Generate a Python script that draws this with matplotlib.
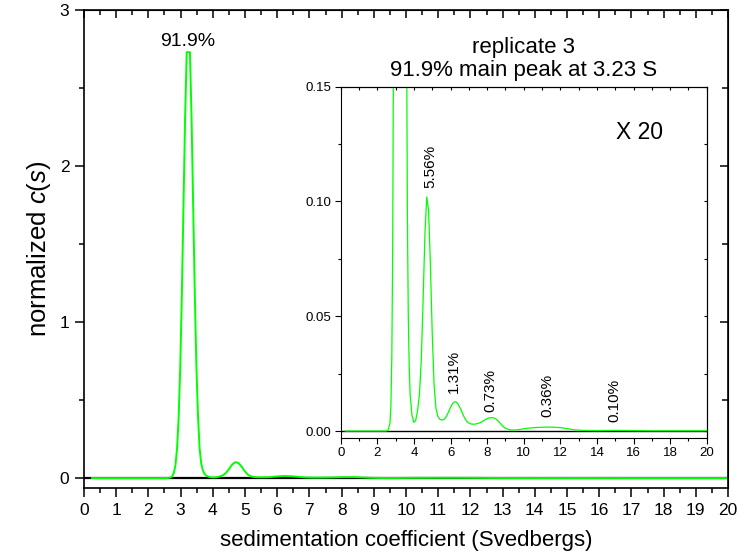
import matplotlib
matplotlib.use("Agg")
import matplotlib.pyplot as plt
from matplotlib.ticker import MultipleLocator

plt.rcParams['font.family'] = ['Liberation Sans', 'DejaVu Sans']
plt.rcParams['mathtext.fontset'] = 'custom'
plt.rcParams['mathtext.rm'] = 'Liberation Sans'
plt.rcParams['mathtext.it'] = 'Liberation Sans:italic'

# c(s) distribution
s = [0.25, 2.5, 2.59, 2.69, 2.74, 2.79, 2.84, 2.89, 2.94, 2.99, 3.04, 3.09, 3.14,
     3.19, 3.29, 3.34, 3.39, 3.44, 3.49, 3.54, 3.59, 3.64, 3.69, 3.74, 3.79,
     3.89, 3.99, 4.09, 4.19, 4.3, 4.4, 4.5, 4.6, 4.7,
     4.8, 4.9, 5.0, 5.1, 5.2, 5.3, 5.4, 5.5, 5.6, 5.7, 5.8, 5.9, 6.0,
     6.1, 6.2, 6.3, 6.4, 6.5, 6.6, 6.7, 6.8, 6.9, 7.0, 7.1, 7.2, 7.3,
     7.4, 7.5, 7.6, 7.7, 7.8, 7.9, 8.0, 8.1, 8.2, 8.3, 8.4, 8.5, 8.6,
     8.7, 8.8, 8.9, 9.0, 9.2, 9.4, 9.6, 9.8, 10.0, 10.4, 10.8, 11.2,
     11.6, 12.0, 12.4, 12.8, 13.2, 14.0, 15.0, 16.0, 17.0, 20.0]
c = [0.0, 0.0, 0.0004, 0.0035, 0.011, 0.032, 0.083, 0.19, 0.39, 0.72, 1.19, 1.75, 2.31,
     2.73, 2.73, 2.31, 1.75, 1.19, 0.72, 0.40, 0.19, 0.095, 0.05, 0.028, 0.016,
     0.007, 0.0038, 0.0045, 0.0085, 0.016, 0.031, 0.057, 0.086, 0.102,
     0.096, 0.072, 0.042, 0.020, 0.010, 0.0065, 0.0052, 0.0048, 0.0049, 0.0055, 0.0068, 0.0085, 0.0104,
     0.0119, 0.0127, 0.0127, 0.0119, 0.0104, 0.0087, 0.0068, 0.0052, 0.0041, 0.0035, 0.0031, 0.0030, 0.0030,
     0.0031, 0.0033, 0.0036, 0.0040, 0.0045, 0.0050, 0.0054, 0.0057, 0.0058, 0.0058, 0.0056, 0.0051, 0.0044,
     0.0035, 0.0026, 0.0018, 0.0012, 0.0006, 0.0004, 0.0005, 0.0007, 0.0010, 0.0014, 0.0016, 0.0017,
     0.0017, 0.0015, 0.0010, 0.0005, 0.0003, 0.0002, 0.0003, 0.0002, 0.0001, 0.0001]

main_label = "91.9%"
main_peak = (3.23, 2.745)
peak_labels = ["5.56%", "1.31%", "0.73%", "0.36%", "0.10%"]
peak_x = [4.88, 6.19, 8.20, 11.29, 14.95]
peak_y = [0.106, 0.0164, 0.0084, 0.0060, 0.0041]

green = '#00ff00'

fig = plt.figure(figsize=(7.44, 5.58), dpi=100)
ax = fig.add_axes([0.1129, 0.1254, 0.8656, 0.8566])

ax.plot([0, 20], [0, 0], color='black', lw=1.6)
ax.plot(s, c, color=green, lw=1.4)
ax.text(main_peak[0], main_peak[1], main_label, ha='center', va='bottom', fontsize=14)

ax.set_xlim(0, 20)
ax.set_ylim(-0.064, 3)
ax.xaxis.set_major_locator(MultipleLocator(1))
ax.xaxis.set_minor_locator(MultipleLocator(0.5))
ax.yaxis.set_major_locator(MultipleLocator(1))
ax.yaxis.set_minor_locator(MultipleLocator(0.5))
ax.tick_params(which='both', direction='out', top=False, right=False, labelsize=12.5, width=1.1)
ax.tick_params(which='major', length=6.5, pad=4)
ax.tick_params(which='minor', length=3.5)
for sp in ax.spines.values():
    sp.set_linewidth(1.2)

# inward ticks on top and right
sec_x = ax.secondary_xaxis('top')
sec_x.xaxis.set_major_locator(MultipleLocator(1))
sec_x.xaxis.set_minor_locator(MultipleLocator(0.5))
sec_x.tick_params(which='both', direction='in', labeltop=False, width=1.1)
sec_x.tick_params(which='major', length=6)
sec_x.tick_params(which='minor', length=3.5)
sec_y = ax.secondary_yaxis('right')
sec_y.yaxis.set_major_locator(MultipleLocator(1))
sec_y.yaxis.set_minor_locator(MultipleLocator(0.5))
sec_y.tick_params(which='both', direction='in', labelright=False, width=1.1)
sec_y.tick_params(which='major', length=6)
sec_y.tick_params(which='minor', length=4)

ax.set_xlabel('sedimentation coefficient (Svedbergs)', fontsize=16, labelpad=9)
ax.set_ylabel(r'normalized $\mathit{c(s)}$', fontsize=18.5, labelpad=5)

# inset, magnified
axi = fig.add_axes([0.458, 0.2156, 0.492, 0.629])
axi.plot([0, 20], [0, 0], color='black', lw=1.0)
axi.plot(s, c, color=green, lw=0.9)
axi.set_xlim(0, 20)
axi.set_ylim(-0.0029, 0.15)
axi.xaxis.set_major_locator(MultipleLocator(2))
axi.xaxis.set_minor_locator(MultipleLocator(1))
axi.yaxis.set_major_locator(MultipleLocator(0.05))
axi.yaxis.set_minor_locator(MultipleLocator(0.025))
axi.yaxis.set_major_formatter(plt.FormatStrFormatter('%.2f'))
axi.tick_params(which='both', direction='out', top=False, right=False, labelsize=9.5, width=0.8)
axi.tick_params(which='major', length=4, pad=3)
axi.tick_params(which='minor', length=2.5)
for sp in axi.spines.values():
    sp.set_linewidth(0.8)
sxi = axi.secondary_xaxis('top')
sxi.xaxis.set_major_locator(MultipleLocator(1))
sxi.tick_params(direction='in', labeltop=False, length=2.5, width=0.8)
syi = axi.secondary_yaxis('right')
syi.yaxis.set_major_locator(MultipleLocator(0.025))
syi.tick_params(direction='in', labelright=False, length=2.5, width=0.8)

for lab, x, y in zip(peak_labels, peak_x, peak_y):
    axi.text(x, y, lab, rotation=90, ha='center', va='bottom', fontsize=11)
axi.text(16.3, 0.130, 'X 20', ha='center', va='center', fontsize=16.5)
axi.set_title('replicate 3\n91.9% main peak at 3.23 S', fontsize=16, pad=7.5, linespacing=1.15)

fig.savefig('out.png', dpi=100)
